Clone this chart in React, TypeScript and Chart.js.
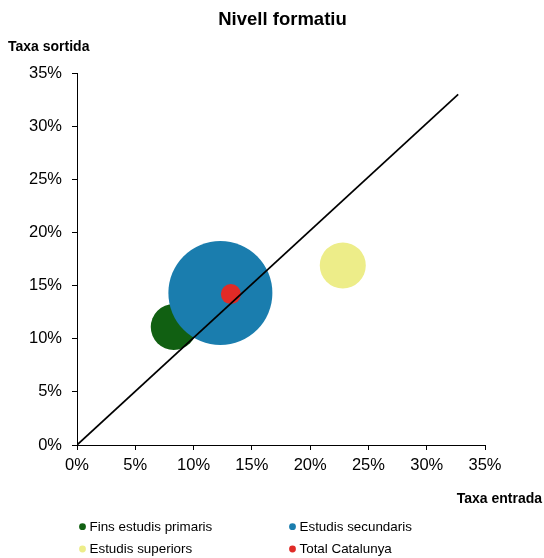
import React, { useEffect, useRef } from 'react';
import { Chart, registerables } from 'chart.js';

Chart.register(...registerables);

const FONT = '"Liberation Sans", Arial, Helvetica, sans-serif';

const chartTitle = 'Nivell formatiu';
const yAxisTitle = 'Taxa sortida';
const xAxisTitle = 'Taxa entrada';

const categories = ['Fins estudis primaris', 'Estudis secundaris', 'Estudis superiors', 'Total Catalunya'];
const entryRate = [8.3, 12.3, 22.8, 13.2];
const exitRate = [11.1, 14.3, 16.9, 14.2];
const bubbleSize = [23, 52, 23, 10];
const seriesColors = ['#116012', '#1a7dae', '#eded89', '#e02b27'];
const drawOrder = [4, 3, 2, 1];

const diagonalX = [0, 32.7];
const diagonalY = [0, 33];

const axisMin = 0;
const axisMax = 35;
const axisStep = 5;

const textPlugin = {
  id: 'customText',
  afterDraw(chart: any) {
    const { ctx, chartArea } = chart;
    ctx.save();
    ctx.fillStyle = '#000';
    ctx.textBaseline = 'alphabetic';
    // main title
    ctx.font = `bold 18.5px ${FONT}`;
    ctx.textAlign = 'center';
    ctx.fillText(chartTitle, (chartArea.left + chartArea.right) / 2 + 1.5, 25);
    // y axis title
    ctx.font = `bold 14px ${FONT}`;
    ctx.textAlign = 'left';
    ctx.fillText(yAxisTitle, 8, 51);
    // x axis title
    ctx.textAlign = 'right';
    ctx.fillText(xAxisTitle, 542, 503);

    // legend
    const bubbleSets = chart.data.datasets.filter((d: any) => d.type === 'bubble');
    ctx.font = `13.4px ${FONT}`;
    ctx.textAlign = 'left';
    ctx.textBaseline = 'middle';
    bubbleSets.forEach((d: any, i: number) => {
      const col = i % 2;
      const row = Math.floor(i / 2);
      const mx = 82.5 + col * 210;
      const my = 526.7 + row * 22.3;
      ctx.beginPath();
      ctx.fillStyle = d.backgroundColor;
      ctx.arc(mx, my, 3.4, 0, Math.PI * 2);
      ctx.fill();
      ctx.fillStyle = '#000';
      ctx.fillText(d.label, mx + 7, my + 0.5);
    });
    ctx.restore();
  },
};

export default function App() {
  const canvasRef = useRef<HTMLCanvasElement | null>(null);

  useEffect(() => {
    if (!canvasRef.current) return;
    const bubbleDatasets = categories.map((label, i) => ({
      type: 'bubble' as const,
      label,
      data: [{ x: entryRate[i], y: exitRate[i], r: bubbleSize[i] }],
      backgroundColor: seriesColors[i],
      borderColor: seriesColors[i],
      borderWidth: 0,
      hoverRadius: 0,
      order: drawOrder[i],
    }));
    const lineDataset = {
      type: 'line' as const,
      label: 'diagonal',
      data: diagonalX.map((x, i) => ({ x, y: diagonalY[i] })),
      borderColor: '#000',
      borderWidth: 1.7,
      pointRadius: 0,
      fill: false,
      order: 0,
    };

    const tickCommon = {
      color: '#000',
      font: { size: 16.5, family: FONT },
      stepSize: axisStep,
      callback: (v: any) => `${v}%`,
    };
    const gridCommon = {
      drawOnChartArea: false,
      drawTicks: true,
      tickLength: 5,
      color: '#000',
      lineWidth: 1,
    };

    const chart = new Chart(canvasRef.current, {
      type: 'bubble',
      data: { datasets: [lineDataset as any, ...bubbleDatasets] },
      options: {
        responsive: false,
        animation: false,
        events: [],
        layout: { padding: { left: 29, right: 59, top: 73, bottom: 83 } },
        plugins: {
          legend: { display: false },
          title: { display: false },
          tooltip: { enabled: false },
        },
        scales: {
          x: {
            type: 'linear',
            min: axisMin,
            max: axisMax,
            ticks: { ...tickCommon, padding: 6, maxRotation: 0 },
            grid: gridCommon,
            border: { display: true, color: '#000', width: 1 },
            afterFit: (s: any) => { s.height = 30; },
          },
          y: {
            type: 'linear',
            min: axisMin,
            max: axisMax,
            ticks: { ...tickCommon, padding: 10 },
            grid: gridCommon,
            border: { display: true, color: '#000', width: 1 },
            afterFit: (s: any) => { s.width = 48; },
          },
        },
      } as any,
      plugins: [textPlugin],
    });
    return () => chart.destroy();
  }, []);

  return (
    <div style={{ position: 'absolute', left: 0, top: 0, width: 544, height: 558, background: '#fff' }}>
      <canvas ref={canvasRef} width={544} height={558} style={{ display: 'block' }} />
    </div>
  );
}
